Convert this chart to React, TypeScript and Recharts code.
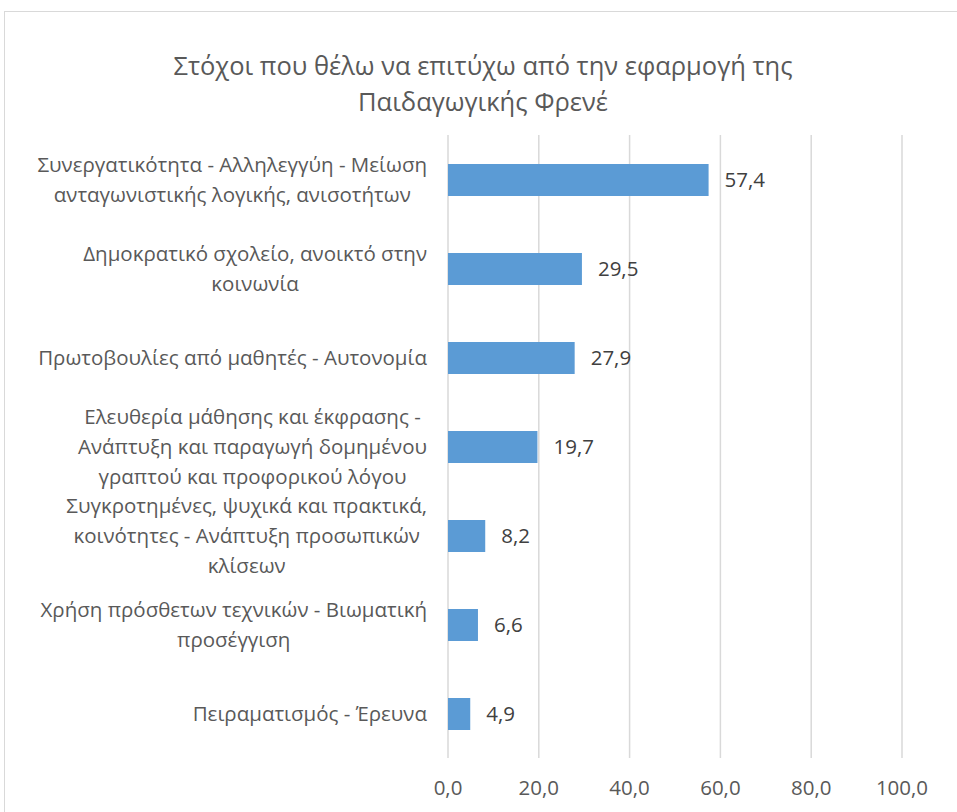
import { BarChart, Bar, XAxis, YAxis, CartesianGrid, LabelList } from "recharts";

const FONT = '"Open Sans", sans-serif';
const TEXT = "#595959";
const BAR = "#5B9BD5";
const GRID = "#D9D9D9";

const TITLE_LINES = [
  "Στόχοι που θέλω να επιτύχω από την εφαρμογή της",
  "Παιδαγωγικής Φρενέ",
];

const categories = [
  "Συνεργατικότητα - Αλληλεγγύη - Μείωση\nανταγωνιστικής λογικής, ανισοτήτων",
  "Δημοκρατικό σχολείο, ανοικτό στην\nκοινωνία",
  "Πρωτοβουλίες από μαθητές - Αυτονομία",
  "Ελευθερία μάθησης και έκφρασης -\nΑνάπτυξη και παραγωγή δομημένου\nγραπτού και προφορικού λόγου",
  "Συγκροτημένες, ψυχικά και πρακτικά,\nκοινότητες - Ανάπτυξη προσωπικών\nκλίσεων",
  "Χρήση πρόσθετων τεχνικών - Βιωματική\nπροσέγγιση",
  "Πειραματισμός - Έρευνα",
];

const values = [57.4, 29.5, 27.9, 19.7, 8.2, 6.6, 4.9];

const xTicks = [0, 20, 40, 60, 80, 100];

const data = categories.map((name, i) => ({ name, value: values[i] }));

const fmt = (v: number) => v.toFixed(1).replace(".", ",");

const LABEL_SIZE = 20.5;
const LINE_H = 30;

let ctx: CanvasRenderingContext2D | null = null;
function measure(s: string) {
  if (!ctx) ctx = document.createElement("canvas").getContext("2d");
  if (!ctx) return s.length * 10;
  ctx.font = `${LABEL_SIZE}px ${FONT}`;
  return ctx.measureText(s).width;
}

// multi-line label: lines centred inside a block whose right edge sits at x
function CategoryTick(props: any) {
  const { x, y, payload } = props;
  const lines: string[] = String(payload.value).split("\n");
  const blockW = Math.max(...lines.map(measure));
  const cx = x - blockW / 2;
  const y0 = y - ((lines.length - 1) * LINE_H) / 2;
  return (
    <text textAnchor="middle" fill={TEXT} fontSize={LABEL_SIZE} fontFamily={FONT}>
      {lines.map((l, i) => (
        <tspan key={i} x={cx} y={y0 + i * LINE_H} dy="0.36em">
          {l}
        </tspan>
      ))}
    </text>
  );
}

export default function App() {
  return (
    <div
      style={{
        position: "absolute",
        left: 0,
        top: 0,
        width: 957,
        height: 812,
        overflow: "hidden",
        background: "#fff",
        fontFamily: FONT,
      }}
    >
      <div
        style={{
          position: "absolute",
          left: 4,
          top: 11,
          width: 980,
          height: 840,
          border: `1px solid ${GRID}`,
        }}
      />
      <div
        style={{
          position: "absolute",
          left: 0,
          top: 47,
          width: 966,
          textAlign: "center",
          color: TEXT,
          fontSize: 25.5,
          lineHeight: "36px",
        }}
      >
        {TITLE_LINES.map((t, i) => (
          <div key={i}>{t}</div>
        ))}
      </div>
      <div style={{ position: "absolute", left: 0, top: 0 }}>
        <BarChart
          width={957}
          height={812}
          data={data}
          layout="vertical"
          margin={{ top: 135, right: 55, bottom: 0, left: 0 }}
        >
          <CartesianGrid horizontal={false} stroke={GRID} strokeWidth={1.5} />
          <XAxis
            type="number"
            domain={[0, 100]}
            ticks={xTicks}
            tickFormatter={fmt}
            axisLine={false}
            tickLine={false}
            tickMargin={16}
            height={54}
            tick={{ fill: TEXT, fontSize: 20.5, fontFamily: FONT }}
          />
          <YAxis
            type="category"
            dataKey="name"
            width={448}
            axisLine={false}
            tickLine={false}
            tickSize={0}
            tickMargin={21}
            interval={0}
            tick={<CategoryTick />}
          />
          <Bar dataKey="value" fill={BAR} barSize={32} isAnimationActive={false}>
            <LabelList
              dataKey="value"
              position="right"
              offset={16}
              formatter={(v: any) => fmt(Number(v))}
              fill="#404040"
              fontSize={20.5}
              fontFamily={FONT}
            />
          </Bar>
        </BarChart>
      </div>
    </div>
  );
}
